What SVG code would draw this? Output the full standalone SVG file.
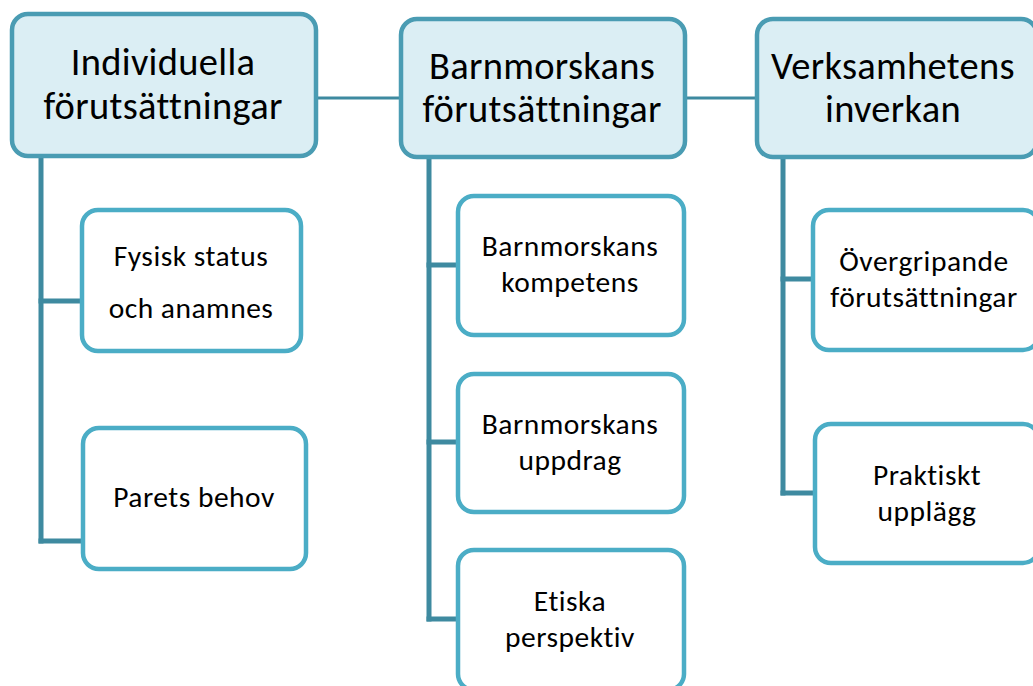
<svg xmlns="http://www.w3.org/2000/svg" width="1033" height="686" viewBox="0 0 1033 686">
<style>
.top rect{fill:#DBEEF4;stroke:#4A9CB3;stroke-width:4.5}
.child rect{fill:#FFFFFF;stroke:#4BADC6;stroke-width:4.5}
text{font-family:Carlito,Lato,"Liberation Sans",sans-serif;fill:#000;text-anchor:middle}
.top text{font-size:38.5px;letter-spacing:0.3px}
.child text{font-size:29.5px;letter-spacing:0.5px}
.conn line{stroke:#3E8AA0;stroke-width:5;stroke-linecap:square}
.conn line.h{stroke-width:3;stroke-linecap:butt}
</style>
<rect width="1033" height="686" fill="#FFFFFF"/>
<g class="conn" id="connectors">
<line class="h" x1="317" y1="98" x2="399" y2="98"/>
<line class="h" x1="686" y1="98" x2="757" y2="98"/>
<line x1="41" y1="160" x2="41" y2="541"/>
<line x1="41" y1="301" x2="80" y2="301"/>
<line x1="41" y1="541" x2="81" y2="541"/>
<line x1="429" y1="160" x2="429" y2="619"/>
<line x1="429" y1="265" x2="456" y2="265"/>
<line x1="429" y1="442" x2="456" y2="442"/>
<line x1="429" y1="619" x2="456" y2="619"/>
<line x1="783" y1="160" x2="783" y2="493"/>
<line x1="783" y1="279" x2="811" y2="279"/>
<line x1="783" y1="493" x2="813" y2="493"/>
</g>
<g class="top" id="n-individuella">
<rect x="12" y="14" width="304" height="142" rx="16"/>
<text x="163" y="75">Individuella</text>
<text x="163" y="119">förutsättningar</text>
</g>
<g class="top" id="n-barnmorskans">
<rect x="401" y="19" width="284" height="138" rx="16"/>
<text x="542" y="79">Barnmorskans</text>
<text x="542" y="122">förutsättningar</text>
</g>
<g class="top" id="n-verksamhetens">
<rect x="757" y="19" width="280" height="138" rx="16"/>
<text x="893" y="79">Verksamhetens</text>
<text x="893" y="122">inverkan</text>
</g>
<g class="child" id="n-fysisk">
<rect x="82" y="210" width="219" height="141" rx="16"/>
<text x="191" y="266">Fysisk status</text>
<text x="191" y="318">och anamnes</text>
</g>
<g class="child" id="n-parets">
<rect x="83" y="428" width="223" height="141" rx="16"/>
<text x="194" y="507">Parets behov</text>
</g>
<g class="child" id="n-kompetens">
<rect x="458" y="196" width="226" height="139" rx="16"/>
<text x="570" y="256">Barnmorskans</text>
<text x="570" y="292">kompetens</text>
</g>
<g class="child" id="n-uppdrag">
<rect x="458" y="374" width="226" height="138" rx="16"/>
<text x="570" y="434">Barnmorskans</text>
<text x="570" y="470">uppdrag</text>
</g>
<g class="child" id="n-etiska">
<rect x="458" y="550" width="226" height="140" rx="16"/>
<text x="570" y="611">Etiska</text>
<text x="570" y="647">perspektiv</text>
</g>
<g class="child" id="n-overgripande">
<rect x="813" y="210" width="226" height="140" rx="16"/>
<text x="924" y="271">Övergripande</text>
<text x="924" y="307">förutsättningar</text>
</g>
<g class="child" id="n-praktiskt">
<rect x="815" y="424" width="224" height="139" rx="16"/>
<text x="927" y="485">Praktiskt</text>
<text x="927" y="521">upplägg</text>
</g>
</svg>
